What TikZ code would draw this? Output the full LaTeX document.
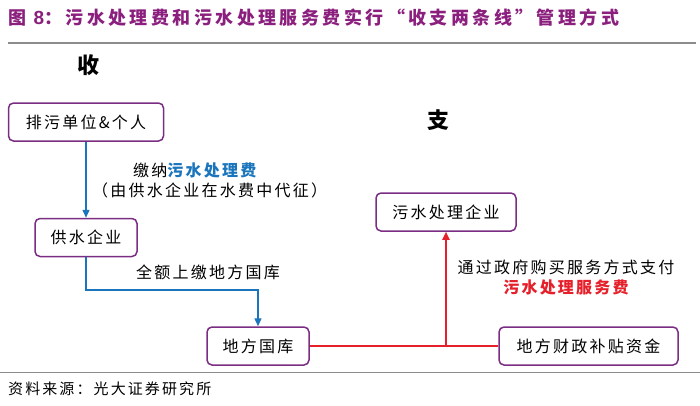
\documentclass[tikz,border=0pt]{standalone}
\usepackage{fontspec}
\setmainfont{Noto Sans CJK SC}[LetterSpace=14]
\newfontfamily\latinb{Liberation Sans}[BoldFont=* Bold]
\usetikzlibrary{arrows.meta}
\definecolor{ttl}{HTML}{8B1F7E}
\definecolor{bord}{HTML}{7B2D84}
\definecolor{blu}{HTML}{1B75BC}
\definecolor{rd}{HTML}{E5202A}
\definecolor{rule}{HTML}{8C8C8C}
\tikzset{
  box/.style={draw=bord, line width=1.5pt, rounded corners=5pt, fill=white,
    inner sep=0pt, font=\fontsize{16}{18}\selectfont},
  lbl/.style={font=\fontsize{16}{18}\selectfont, inner sep=0pt, align=center},
  bluline/.style={draw=blu, line width=1.4pt},
  redline/.style={draw=rd, line width=1.8pt},
  tip/.style={-{Triangle[length=8pt,width=7pt]}},
  rulestyle/.style={draw=rule, line width=1.4pt}
}
\begin{document}
\begin{tikzpicture}[x=1pt,y=-1pt]
\useasboundingbox (0,0) rectangle (700,405);
% title
\node[anchor=west, inner sep=0pt, text=ttl, font=\fontsize{18}{20}\selectfont\bfseries\addfontfeature{LetterSpace=19}] (title) at (8,18)
  {图 {\latinb\bfseries\fontsize{19}{20}\selectfont 8}：污水处理费和污水处理服务费实行“收支两条线”管理方式};
\draw[rulestyle] (8,43) -- (696,43);
% headings
\node[inner sep=0pt, font=\fontsize{22}{24}\selectfont\bfseries] (shou) at (88,65) {收};
\node[inner sep=0pt, font=\fontsize{22}{24}\selectfont\bfseries] (zhi) at (438,120) {支};
% boxes
\node[box, minimum width=155pt, minimum height=38pt] (paiwu) at (86,122) {排污单位\&个人};
\node[box, minimum width=102pt, minimum height=38pt] (gongshui) at (86,237.5) {供水企业};
\node[box, minimum width=102pt, minimum height=38pt] (guoku) at (258,346) {地方国库};
\node[box, minimum width=179pt, minimum height=38pt] (caizheng) at (588.5,346) {地方财政补贴资金};
\node[box, minimum width=140pt, minimum height=38pt] (wushui) at (446,212) {污水处理企业};
% labels
\node[lbl, anchor=west] (l1) at (133,170) {缴纳\textcolor{blu}{\bfseries 污水处理费}};
\node[lbl, anchor=west] (l2) at (92,190) {（由供水企业在水费中代征）};
\node[lbl] (l3) at (208,272) {全额上缴地方国库};
\node[lbl] (l4) at (566,267) {通过政府购买服务方式支付};
\node[lbl, text=rd, font=\fontsize{16}{18}\selectfont\bfseries] (l5) at (566,287) {污水处理服务费};
% connectors
\draw[bluline, tip] (paiwu.south) -- (gongshui.north);
\coordinate (b1) at (86,290);
\coordinate (b2) at (258,290);
\draw[bluline, tip] (gongshui.south) -- (b1) -- (b2) -- (guoku.north);
\draw[redline] (guoku.east) -- (caizheng.west);
\coordinate (j) at (446,346);
\draw[redline, tip] (j) -- (wushui.south);
% bottom
\draw[rulestyle] (0,372.5) -- (700,372.5);
\node[anchor=west, inner sep=0pt, font=\fontsize{15}{17}\selectfont] (src) at (8,389) {资料来源：光大证券研究所};
\end{tikzpicture}
\end{document}
